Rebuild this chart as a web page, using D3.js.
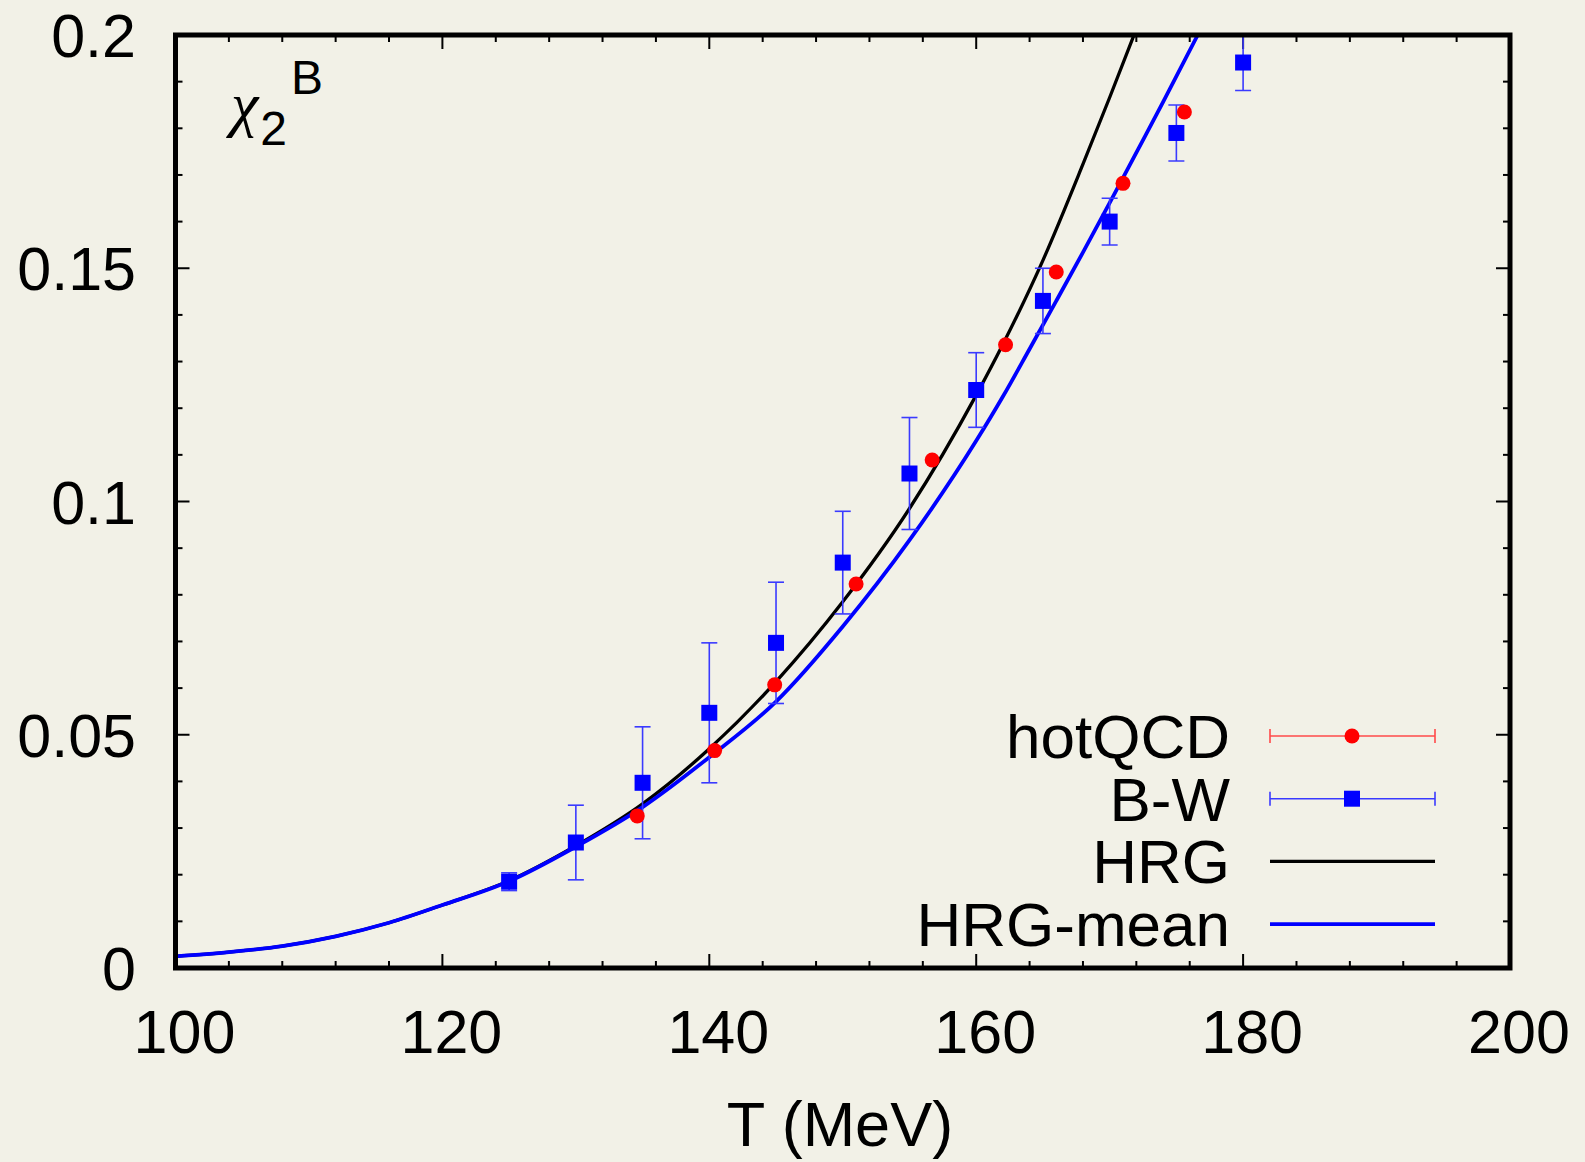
<!DOCTYPE html>
<html>
<head>
<meta charset="utf-8">
<script src="https://cdn.jsdelivr.net/npm/d3@7"></script>
<style>
  html, body { margin: 0; padding: 0; background: #f2f1e7; }
  svg { display: block; font-family: "Liberation Sans", Arial, sans-serif; }
</style>
</head>
<body>
<svg id="chart" width="1585" height="1162"></svg>
<script>
// hotQCD lattice points
const qcdT = [134.6, 140.4, 144.9, 151.0, 156.7, 162.2, 166.0, 171.0, 175.6];
const qcdChi = [0.0326, 0.0466, 0.0607, 0.0823, 0.1089, 0.1336, 0.1492, 0.1682, 0.1835];

// Borsanyi-Wuppertal points with errors
const bwT = [125, 130, 135, 140, 145, 150, 155, 160, 165, 170, 175, 180];
const bwChi = [0.0185, 0.0269, 0.0397, 0.0547, 0.0697, 0.0869, 0.1060, 0.1239, 0.1430, 0.1600, 0.1790, 0.1941];
const bwErr = [0.0019, 0.0080, 0.0120, 0.0150, 0.0130, 0.0110, 0.0120, 0.0080, 0.0070, 0.0050, 0.0060, 0.0060];

// HRG curves
const hrgT = [100, 104, 108, 112, 116, 120, 125, 130, 135, 140, 145, 150, 155, 160, 162, 165, 168, 170, 171.8];
const hrgChi = [0.0025, 0.0034, 0.0047, 0.0068, 0.0097, 0.0135, 0.0187, 0.0262, 0.0352, 0.0470, 0.0614, 0.0785, 0.0985, 0.1228, 0.1337, 0.1517, 0.1723, 0.1866, 0.1998];
const meanT = [100, 104, 108, 112, 116, 120, 125, 130, 135, 140, 145, 150, 155, 160, 162, 164, 166, 168, 170, 172, 174, 176.6];
const meanChi = [0.0025, 0.0034, 0.0047, 0.0068, 0.0097, 0.0135, 0.0186, 0.0260, 0.0345, 0.0452, 0.0571, 0.0732, 0.0917, 0.1130, 0.1225, 0.1327, 0.1430, 0.1534, 0.1640, 0.1748, 0.1856, 0.2000];

const xTicks = [100, 120, 140, 160, 180, 200];
const yTicks = [0, 0.05, 0.1, 0.15, 0.2];
const yTickLabels = ['0', '0.05', '0.1', '0.15', '0.2'];

const svg = d3.select('#chart');
const pLeft = 175.5, pRight = 1510, pTop = 35, pBottom = 968;
const x = d3.scaleLinear().domain([100, 200]).range([pLeft, pRight]);
const y = d3.scaleLinear().domain([0, 0.2]).range([pBottom, pTop]);
const fs = 61;

svg.append('rect').attr('width', 1585).attr('height', 1162).attr('fill', '#f2f1e7');

svg.append('clipPath').attr('id', 'clip')
  .append('rect').attr('x', pLeft).attr('y', pTop).attr('width', pRight - pLeft).attr('height', pBottom - pTop);

// ticks on all four sides, pointing inward
const ticks = svg.append('g').attr('stroke', '#000').attr('stroke-width', 2);
d3.range(100, 201, 4).forEach((t) => {
  const len = (t - 100) % 20 === 0 ? 14 : 7;
  ticks.append('line').attr('x1', x(t)).attr('x2', x(t)).attr('y1', pBottom).attr('y2', pBottom - len);
  ticks.append('line').attr('x1', x(t)).attr('x2', x(t)).attr('y1', pTop).attr('y2', pTop + len);
});
d3.range(0, 21).forEach((i) => {
  const v = i / 100;
  const len = i % 5 === 0 ? 14 : 7;
  ticks.append('line').attr('x1', pLeft).attr('x2', pLeft + len).attr('y1', y(v)).attr('y2', y(v));
  ticks.append('line').attr('x1', pRight).attr('x2', pRight - len).attr('y1', y(v)).attr('y2', y(v));
});

// tick labels
svg.append('g').selectAll('text').data(xTicks).join('text')
  .attr('x', (d) => x(d) + 9).attr('y', 1053)
  .attr('text-anchor', 'middle').attr('font-size', fs)
  .text((d) => d);
svg.append('g').selectAll('text').data(yTicks).join('text')
  .attr('x', 136).attr('y', (d) => y(d) + 22)
  .attr('text-anchor', 'end').attr('font-size', fs)
  .text((d, i) => yTickLabels[i]);

svg.append('text').attr('x', 840).attr('y', 1146)
  .attr('text-anchor', 'middle').attr('font-size', 63).text('T (MeV)');

// chi_2^B label
const lab = svg.append('text').attr('x', 231).attr('y', 125).attr('font-size', 62);
lab.append('tspan').attr('font-family', '"Liberation Serif", serif').attr('font-style', 'italic').text('χ');
lab.append('tspan').attr('font-size', 48).attr('dx', 2).attr('dy', 20).text('2');
lab.append('tspan').attr('font-size', 48).attr('dx', 4).attr('dy', -51).text('B');

const plot = svg.append('g').attr('clip-path', 'url(#clip)');
const line = d3.line().x((d) => x(d[0])).y((d) => y(d[1])).curve(d3.curveMonotoneX);

plot.append('path').datum(hrgT.map((t, i) => [t, hrgChi[i]]))
  .attr('d', line).attr('fill', 'none').attr('stroke', '#000').attr('stroke-width', 3.3);
plot.append('path').datum(meanT.map((t, i) => [t, meanChi[i]]))
  .attr('d', line).attr('fill', 'none').attr('stroke', '#0000ff').attr('stroke-width', 3.8);

// B-W error bars
const eb = plot.append('g').attr('stroke', '#3a3aff').attr('stroke-width', 1.6);
bwT.forEach((t, i) => {
  const lo = y(bwChi[i] - bwErr[i]);
  const hi = y(bwChi[i] + bwErr[i]);
  eb.append('line').attr('x1', x(t)).attr('x2', x(t)).attr('y1', lo).attr('y2', hi);
  eb.append('line').attr('x1', x(t) - 8).attr('x2', x(t) + 8).attr('y1', lo).attr('y2', lo);
  eb.append('line').attr('x1', x(t) - 8).attr('x2', x(t) + 8).attr('y1', hi).attr('y2', hi);
});

plot.append('g').selectAll('circle').data(qcdT).join('circle')
  .attr('cx', (d) => x(d)).attr('cy', (d, i) => y(qcdChi[i])).attr('r', 7.5).attr('fill', '#ff0000');

plot.append('g').selectAll('rect').data(bwT).join('rect')
  .attr('x', (d) => x(d) - 8).attr('y', (d, i) => y(bwChi[i]) - 8)
  .attr('width', 16).attr('height', 16).attr('fill', '#0000ff');

// legend
const legendNames = ['hotQCD', 'B-W', 'HRG', 'HRG-mean'];
const lg = svg.append('g');
const lx1 = 1270, lx2 = 1435, lxm = 1352;
legendNames.forEach((name, i) => {
  const cy = 736 + i * 62.7;
  lg.append('text').attr('x', 1230).attr('y', cy + 22)
    .attr('text-anchor', 'end').attr('font-size', 62).text(name);
  if (i < 2) {
    const col = i === 0 ? '#ff4a4a' : '#3a3aff';
    lg.append('line').attr('x1', lx1).attr('x2', lx2).attr('y1', cy).attr('y2', cy)
      .attr('stroke', col).attr('stroke-width', 1.6);
    [lx1, lx2].forEach((cx) => lg.append('line').attr('x1', cx).attr('x2', cx)
      .attr('y1', cy - 7).attr('y2', cy + 7).attr('stroke', col).attr('stroke-width', 1.6));
    if (i === 0) {
      lg.append('circle').attr('cx', lxm).attr('cy', cy).attr('r', 7.5).attr('fill', '#ff0000');
    } else {
      lg.append('rect').attr('x', lxm - 8).attr('y', cy - 8).attr('width', 16).attr('height', 16).attr('fill', '#0000ff');
    }
  } else {
    lg.append('line').attr('x1', lx1).attr('x2', lx2).attr('y1', cy).attr('y2', cy)
      .attr('stroke', i === 2 ? '#000' : '#0000ff').attr('stroke-width', i === 2 ? 3.3 : 3.8);
  }
});

// frame
svg.append('rect').attr('x', pLeft).attr('y', pTop).attr('width', pRight - pLeft).attr('height', pBottom - pTop)
  .attr('fill', 'none').attr('stroke', '#000').attr('stroke-width', 5);
</script>
</body>
</html>
